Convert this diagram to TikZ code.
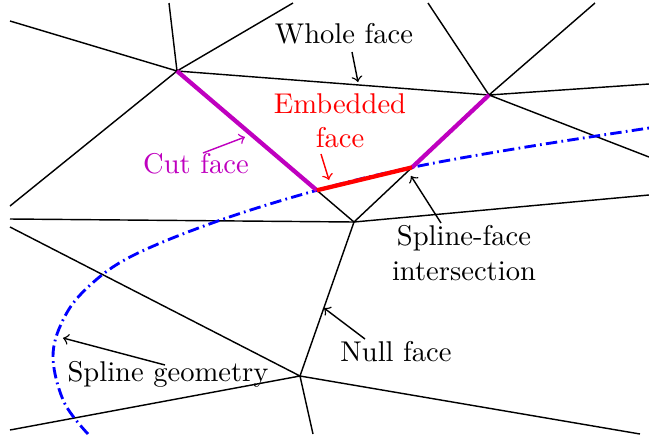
\documentclass[tikz,border=0pt]{standalone}
\usetikzlibrary{calc}
\definecolor{cutcol}{rgb}{0.75,0,0.75}
\tikzset{
  edge/.style={line width=0.5pt},
  lab/.style={inner sep=0pt, align=center},
  pointer/.style={->, line width=0.5pt},
  spline/.style={blue, line width=1pt, dash pattern=on 4pt off 1.5pt on 0.6pt off 1.5pt},
}
\begin{document}
\begin{tikzpicture}[x=0.35pt, y=-0.35pt]
\useasboundingbox (0,0) rectangle (649,440);
% vertices
\coordinate (A) at (177,71);
\coordinate (B) at (489,95);
\coordinate (C) at (354,222);
\coordinate (D) at (300,376);
\coordinate (P1) at ($(A)!0.79!(C)$);
\coordinate (P2) at ($(B)!0.57!(C)$);
% free ends
\coordinate (a1) at (169,3);
\coordinate (a2) at (293,3);
\coordinate (a3) at (10,21);
\coordinate (a4) at (10,206);
\coordinate (b1) at (428,3);
\coordinate (b2) at (595,3);
\coordinate (b3) at (649,84);
\coordinate (b4) at (649,157);
\coordinate (c1) at (10,219);
\coordinate (c2) at (649,195);
\coordinate (d1) at (10,227);
\coordinate (d2) at (10,430);
\coordinate (d3) at (313,434);
\coordinate (d4) at (640,434);
% mesh edges
\draw[edge] (A) -- (a1) (A) -- (a2) (A) -- (a3) (A) -- (a4) (A) -- (B);
\draw[edge] (B) -- (b1) (B) -- (b2) (B) -- (b3) (B) -- (b4);
\draw[edge] (P1) -- (C) -- (P2);
\draw[edge] (C) -- (c1) (C) -- (c2) (C) -- (D);
\draw[edge] (D) -- (d1) (D) -- (d2) (D) -- (d3) (D) -- (d4);
% spline
\draw[spline] plot[smooth, tension=0.6] coordinates {(88,434) (64,402) (53,357) (63,320) (86,289) (130,257) (215,222) (P1) (P2) (520,148) (649,128)};
% cut and embedded faces
\draw[cutcol, line width=1.5pt] (A) -- (P1);
\draw[cutcol, line width=1.5pt] (B) -- (P2);
\draw[red, line width=1.5pt] (P1) -- (P2);
% labels
\node[lab] (whole) at (344,34) {Whole face};
\node[lab, red] (emb) at (340,121) {Embedded\\face};
\node[lab, cutcol] (cut) at (196,164) {Cut face};
\node[lab] (sfi) at (464,253) {Spline-face\\intersection};
\node[lab] (null) at (396,352) {Null face};
\node[lab] (geo) at (168,374) {Spline geometry};
% pointer ends
\coordinate (w0) at (352,52);  \coordinate (w1) at (358,82);
\coordinate (e0) at (321,154); \coordinate (e1) at (329,180);
\coordinate (k0) at (203,153); \coordinate (k1) at (245,137);
\coordinate (s0) at (441,223); \coordinate (s1) at (411,176);
\coordinate (n0) at (365,339); \coordinate (n1) at (324,308);
\coordinate (g0) at (165,365); \coordinate (g1) at (63,338);
\draw[pointer] (w0) -- (w1);
\draw[pointer, red] (e0) -- (e1);
\draw[pointer, cutcol] (k0) -- (k1);
\draw[pointer] (s0) -- (s1);
\draw[pointer] (n0) -- (n1);
\draw[pointer] (g0) -- (g1);
\end{tikzpicture}
\end{document}
